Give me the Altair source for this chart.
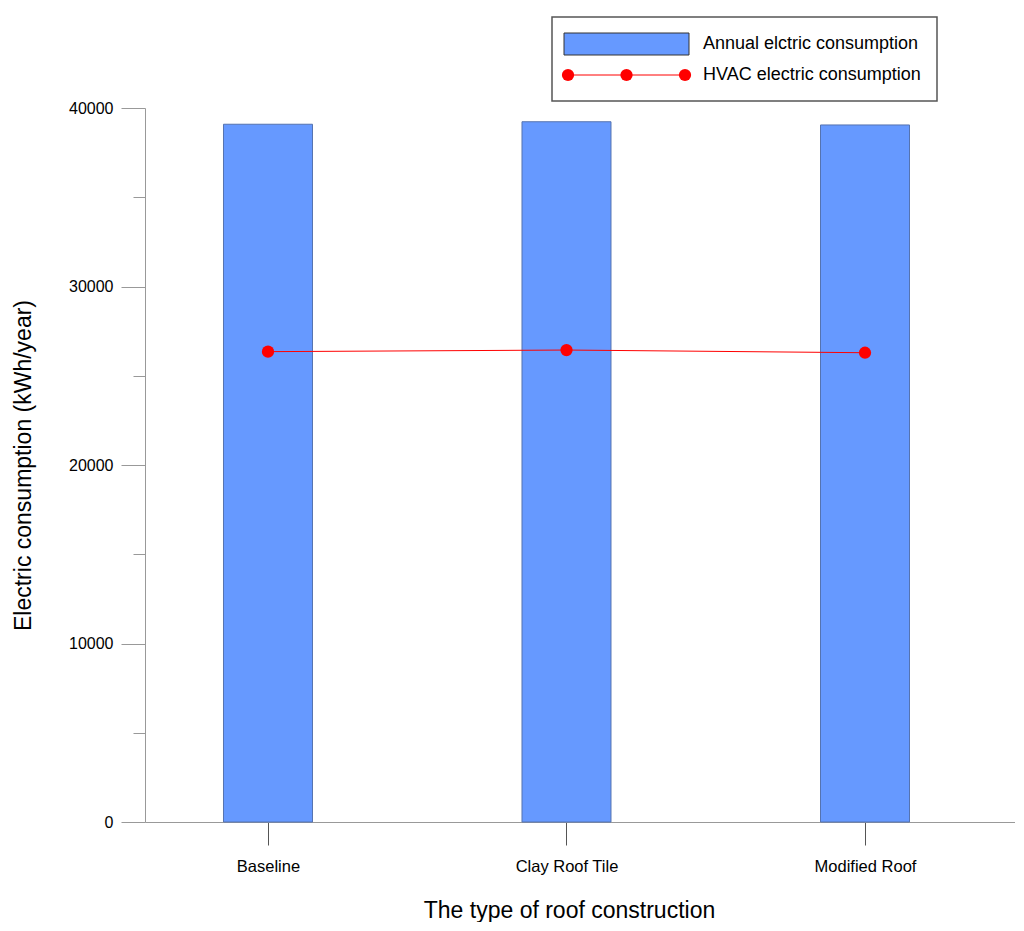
import altair as alt
import pandas as pd

categories = ["Baseline", "Clay Roof Tile", "Modified Roof"]
positions = [1, 2, 3]
annual = [39090, 39230, 39050]
hvac = [26350, 26440, 26290]
series_names = ["Annual elctric consumption", "HVAC electric consumption"]
y_ticks = list(range(0, 40001, 5000))

df = pd.DataFrame({"pos": positions, "cat": categories, "annual": annual, "hvac": hvac})
one = pd.DataFrame({"k": [0]})

FONT = "Liberation Sans"
label_expr = "[" + ",".join("'" + c + "'" for c in categories) + "][datum.value - 1]"

x_scale = alt.Scale(domain=[0.588, 3.5025], nice=False, zero=False, padding=0)

x_enc = alt.X(
    "pos:Q",
    scale=x_scale,
    axis=alt.Axis(
        values=positions,
        labelExpr=label_expr,
        title="The type of roof construction",
        tickSize=23,
        tickColor="#555555",
        domainColor="#999999",
        grid=False,
        labelFont=FONT,
        labelFontSize=16.5,
        labelColor="black",
        labelPadding=13,
        titleFont=FONT,
        titleFontSize=23,
        titleFontWeight="normal",
        titleColor="black",
        titleX=424,
        titleY=95,
        titleBaseline="alphabetic",
        titleAlign="center",
    ),
)

y_enc_axis = alt.Axis(
    values=y_ticks,
    format="d",
    labelExpr="datum.value % 10000 === 0 ? datum.label : ''",
    tickSize={"condition": {"test": "datum.value % 10000 === 0", "value": 24}, "value": 12},
    tickColor="#999999",
    domainColor="#999999",
    grid=False,
    labelFont=FONT,
    labelFontSize=16,
    labelColor="black",
    labelPadding=8,
    title="Electric consumption (kWh/year)",
    titleFont=FONT,
    titleFontSize=23,
    titleFontWeight="normal",
    titleColor="black",
    titleX=-122,
    titleY=357,
    titleBaseline="middle",
    titleAlign="center",
)

y_scale = alt.Scale(domain=[0, 40000], nice=False)

bars = alt.Chart(df).mark_bar(size=89, color="#6699ff", stroke="#5573b0", strokeWidth=1).encode(
    x=x_enc,
    y=alt.Y("annual:Q", scale=y_scale, axis=y_enc_axis),
)

line = alt.Chart(df).mark_line(color="red", strokeWidth=1).encode(
    x=alt.X("pos:Q", scale=x_scale), y=alt.Y("hvac:Q", scale=y_scale)
)
pts = alt.Chart(df).mark_point(filled=True, color="red", size=150, opacity=1).encode(
    x=alt.X("pos:Q", scale=x_scale), y=alt.Y("hvac:Q", scale=y_scale)
)

# legend (decoration)
leg_box = alt.Chart(one).mark_rect(fill="white", stroke="#555555", strokeWidth=1.5).encode(
    x=alt.value(407), x2=alt.value(792), y=alt.value(-91), y2=alt.value(-7)
)
leg_bar = alt.Chart(one).mark_rect(fill="#6699ff", stroke="#333333", strokeWidth=1).encode(
    x=alt.value(419), x2=alt.value(544), y=alt.value(-75), y2=alt.value(-53)
)
leg_line = alt.Chart(one).mark_rule(color="red", strokeWidth=1).encode(
    x=alt.value(423), x2=alt.value(540), y=alt.value(-33)
)
leg_dots = [
    alt.Chart(one).mark_point(filled=True, color="red", size=150, opacity=1).encode(
        x=alt.value(px), y=alt.value(-33)
    )
    for px in (423, 481.5, 540)
]
leg_t1 = alt.Chart(one).mark_text(
    text=series_names[0], font=FONT, fontSize=18, align="left", baseline="middle", color="black"
).encode(x=alt.value(558), y=alt.value(-64))
leg_t2 = alt.Chart(one).mark_text(
    text=series_names[1], font=FONT, fontSize=18, align="left", baseline="middle", color="black"
).encode(x=alt.value(558), y=alt.value(-33))

chart = alt.layer(
    bars, line, pts, leg_box, leg_bar, leg_line, *leg_dots, leg_t1, leg_t2
).properties(
    width=870,
    height=714,
    padding={"left": 137, "top": 100, "right": 0, "bottom": 100},
    autosize=alt.AutoSizeParams(type="none"),
    background="white",
).configure_view(stroke=None)

chart.save("out.html", embed_options={"renderer": "svg", "actions": False})
